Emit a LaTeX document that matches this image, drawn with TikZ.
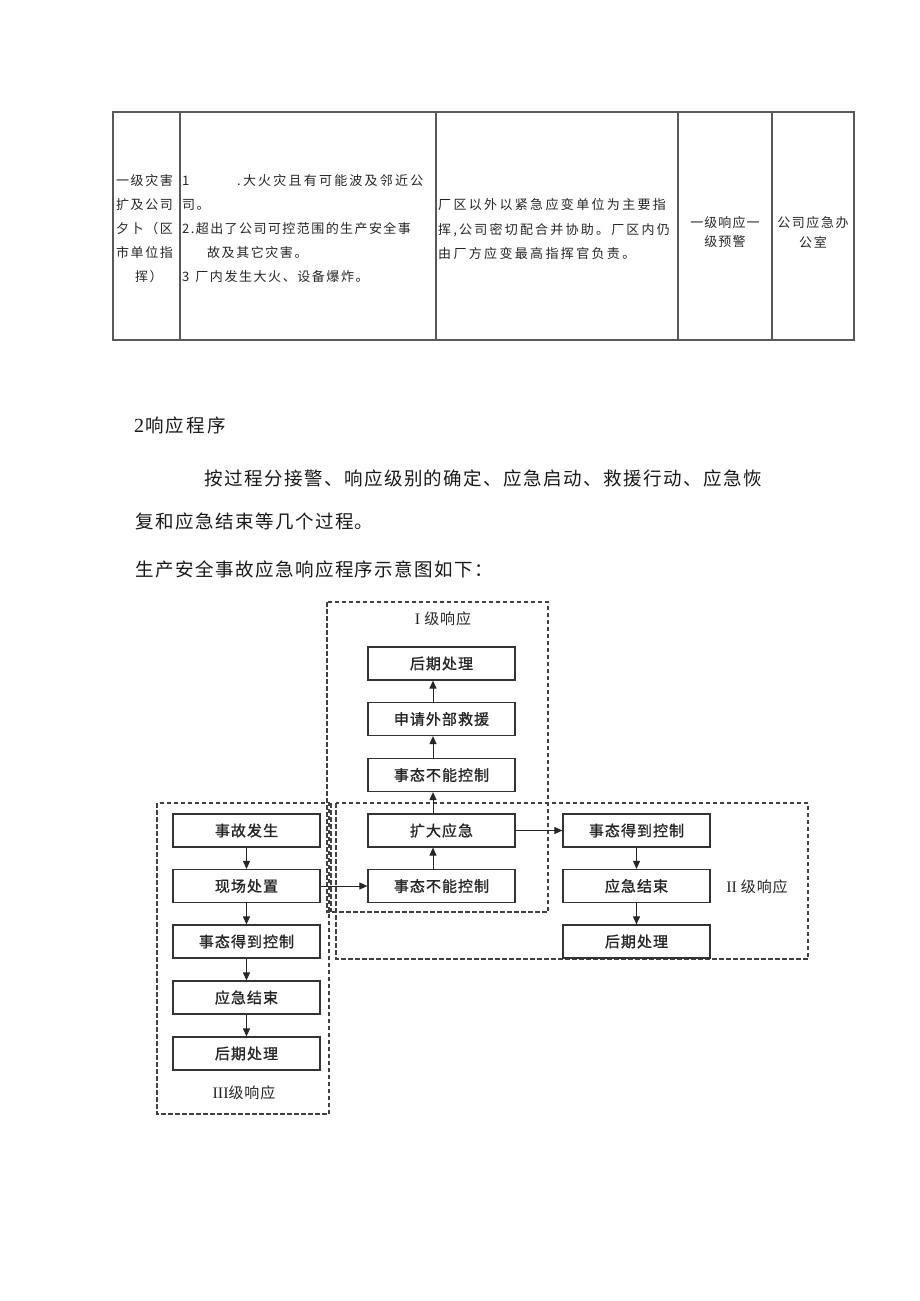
\documentclass[tikz,border=0pt]{standalone}
\usepackage{fontspec}
\usetikzlibrary{arrows.meta}
\newfontfamily\cjk{Noto Sans CJK SC}
\newfontfamily\cjkbold[FakeBold=1.2]{Noto Sans CJK SC}
\newfontfamily\romanum{Liberation Serif}
\newcommand{\ls}[1]{\addfontfeature{LetterSpace=#1}}
\tikzset{
  tab/.style={inner sep=0pt, anchor=west, text=black!85, font=\fontsize{13}{15}\selectfont\cjk},
  tabc/.style={tab, anchor=center},
  body/.style={inner sep=0pt, anchor=west, text=black!90, font=\fontsize{18.5}{20}\selectfont\cjk},
  box/.style={draw=black!80, line width=1.2pt, minimum width=147pt, minimum height=33pt,
    inner sep=0pt, text=black!85, font=\fontsize{15}{17}\selectfont\cjkbold\ls{7}},
  arr/.style={-{Triangle[length=8pt,width=7pt]}, line width=1pt, draw=black!85},
  frame/.style={dash pattern=on 4.5pt off 2.5pt, line width=1.1pt, draw=black!75},
  lab/.style={inner sep=0pt, text=black!85, font=\fontsize{15}{17}\selectfont\cjk\ls{6}},
  tline/.style={line width=1.1pt, draw=black!65}
}
\begin{document}
\begin{tikzpicture}[x=1pt,y=-1pt]
\fill[white] (0,0) rectangle (920,1301);
\useasboundingbox (0,0) rectangle (920,1301);

% ---- table ----
\draw[tline] (113,112) rectangle (854,340);
\foreach \xx in {180,436,678,772} \draw[tline] (\xx,112) -- (\xx,340);

\node[tab] (c1a) at (116,181) {\ls{12}一级灾害};
\node[tab] (c1b) at (116,205) {\ls{12}扩及公司};
\node[tab] (c1c) at (116,229) {\ls{12}夕卜（区};
\node[tab] (c1d) at (116,253) {\ls{12}市单位指};
\node[tab] (c1e) at (135,277) {\ls{12}挥）};

\node[tab] (c2a) at (182,181) {\ls{17}\makebox[55pt][l]{1}.大火灾且有可能波及邻近公};
\node[tab] (c2b) at (182,205) {\ls{12}司。};
\node[tab] (c2c) at (182,229) {\ls{11}2.超出了公司可控范围的生产安全事};
\node[tab] (c2d) at (207,253) {\ls{12}故及其它灾害。};
\node[tab] (c2e) at (182,277) {\ls{12}3\hspace{6pt}厂内发生大火、设备爆炸。};

\node[tab] (c3a) at (438,205) {\ls{18}厂区以外以紧急应变单位为主要指};
\node[tab] (c3b) at (438,230) {\ls{17}挥,\,公司密切配合并协助。厂区内仍};
\node[tab] (c3c) at (438,254) {\ls{18}由厂方应变最高指挥官负责。};

\node[tabc] (c4a) at (725,223) {\ls{8}一级响应一};
\node[tabc] (c4b) at (725,242) {\ls{8}级预警};
\node[tabc] (c5a) at (813,223) {\ls{12}公司应急办};
\node[tabc] (c5b) at (813,242) {\ls{12}公室};

% ---- text ----
\node[body] (head) at (134,425) {{\romanum\fontsize{20}{20}\selectfont 2}\hspace{1pt}\ls{12}响应程序};
\node[body] (p1) at (204,478) {\ls{8}按过程分接警、响应级别的确定、应急启动、救援行动、应急恢};
\node[body] (p2) at (135,521) {\ls{8}复和应急结束等几个过程。};
\node[body] (p3) at (135,569) {\ls{8}生产安全事故应急响应程序示意图如下：};

% ---- frames ----
\draw[frame] (327,602) rectangle (548,912);
\draw[frame] (336,803) rectangle (808,959);
\draw[frame] (157,803) rectangle (329,1114);
\draw[frame] (331,803) -- (331,912);

\node[lab] (labI) at (443,619) {{\romanum\fontsize{16}{17}\selectfont I}\hspace{4pt}级响应};
\node[lab] (labII) at (757,887) {{\romanum\fontsize{16}{17}\selectfont II}\hspace{4pt}级响应};
\node[lab] (labIII) at (244,1093) {{\romanum\fontsize{16}{17}\selectfont III}级响应};

% ---- level III column ----
\node[box] (s1) at (246.5,830.5) {事故发生};
\node[box] (s2) at (246.5,886) {现场处置};
\node[box] (s3) at (246.5,941.5) {事态得到控制};
\node[box] (s4) at (246.5,997.5) {应急结束};
\node[box] (s5) at (246.5,1053.5) {后期处理};

% ---- level I column ----
\node[box] (i5) at (441.5,663.5) {后期处理};
\node[box] (i4) at (441.5,719) {申请外部救援};
\node[box] (i3) at (441.5,775) {事态不能控制};
\node[box] (i2) at (441.5,830.5) {扩大应急};
\node[box] (i1) at (441.5,886) {事态不能控制};
\coordinate (ix) at (433,0);

% ---- level II column ----
\node[box] (t1) at (636.5,830.5) {事态得到控制};
\node[box] (t2) at (636.5,886) {应急结束};
\node[box] (t3) at (636.5,941.5) {后期处理};

% ---- arrows ----
\draw[arr] (s1) -- (s2);
\draw[arr] (s2) -- (s3);
\draw[arr] (s3) -- (s4);
\draw[arr] (s4) -- (s5);
\draw[arr] (s2) -- (i1);
\draw[arr] (i1.north -| ix) -- (i2.south -| ix);
\draw[arr] (i2.north -| ix) -- (i3.south -| ix);
\draw[arr] (i3.north -| ix) -- (i4.south -| ix);
\draw[arr] (i4.north -| ix) -- (i5.south -| ix);
\draw[arr] (i2) -- (t1);
\draw[arr] (t1) -- (t2);
\draw[arr] (t2) -- (t3);
\end{tikzpicture}
\end{document}
